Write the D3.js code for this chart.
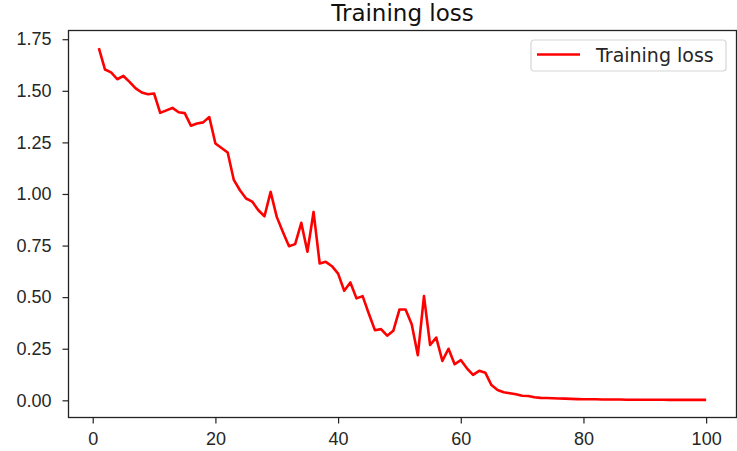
<!DOCTYPE html>
<html>
<head>
<meta charset="utf-8">
<script src="https://cdn.jsdelivr.net/npm/d3@7"></script>
<style>
  body { margin: 0; background: #fff; }
  svg { display: block; font-family: "DejaVu Sans", sans-serif; }
  .tick text { fill: #262626; }
</style>
</head>
<body>
<svg width="737" height="451"></svg>
<script>
const title = "Training loss";
const seriesName = "Training loss";

const epochs = d3.range(1, 101);
const trainLoss = [
  1.707, 1.603, 1.589, 1.556, 1.572, 1.543, 1.512, 1.492, 1.483, 1.487,
  1.393, 1.405, 1.417, 1.396, 1.392, 1.331, 1.342, 1.347, 1.373, 1.245,
  1.223, 1.201, 1.068, 1.018, 0.978, 0.963, 0.921, 0.892, 1.010, 0.889,
  0.816, 0.747, 0.757, 0.860, 0.720, 0.913, 0.663, 0.671, 0.650, 0.614,
  0.531, 0.571, 0.494, 0.505, 0.421, 0.340, 0.345, 0.313, 0.337, 0.440,
  0.440, 0.369, 0.219, 0.505, 0.268, 0.304, 0.191, 0.250, 0.175, 0.195,
  0.155, 0.123, 0.143, 0.134, 0.074, 0.050, 0.039, 0.034, 0.029, 0.022,
  0.021, 0.015, 0.012, 0.011, 0.010, 0.009, 0.008, 0.007, 0.006, 0.005,
  0.005, 0.005, 0.004, 0.004, 0.004, 0.004, 0.003, 0.003, 0.003, 0.003,
  0.003, 0.003, 0.003, 0.002, 0.002, 0.002, 0.002, 0.002, 0.002, 0.002
];

const xTicks = [0, 20, 40, 60, 80, 100];
const yTicks = [0, 0.25, 0.5, 0.75, 1.0, 1.25, 1.5, 1.75];

const margin = { left: 68.5, top: 30.5, right: 0.5, bottom: 33.5 };
const W = 737, H = 451;

const svg = d3.select("svg");

// matplotlib-style 5% padding around the data
function padded(ext) {
  const p = (ext[1] - ext[0]) * 0.05;
  return [ext[0] - p, ext[1] + p];
}

const x = d3.scaleLinear()
  .domain(padded(d3.extent(epochs)))
  .range([margin.left, W - margin.right]);

const y = d3.scaleLinear()
  .domain(padded(d3.extent(trainLoss)))
  .range([H - margin.bottom, margin.top]);

const xAxis = svg.append("g")
  .attr("transform", `translate(0,${H - margin.bottom})`)
  .call(d3.axisBottom(x).tickValues(xTicks).tickSize(6).tickPadding(9).tickFormat(d3.format("d")));

const yAxis = svg.append("g")
  .attr("transform", `translate(${margin.left},0)`)
  .call(d3.axisLeft(y).tickValues(yTicks).tickSize(6).tickPadding(11).tickFormat(d3.format(".2f")));

[xAxis, yAxis].forEach((g) => {
  g.select(".domain").remove();
  g.selectAll(".tick line").attr("stroke", "#222").attr("stroke-width", 1.2);
  g.selectAll(".tick text").attr("font-size", 18);
});

// frame
svg.append("rect")
  .attr("x", margin.left)
  .attr("y", margin.top)
  .attr("width", W - margin.right - margin.left)
  .attr("height", H - margin.bottom - margin.top)
  .attr("fill", "none")
  .attr("stroke", "#222")
  .attr("stroke-width", 1.3);

const line = d3.line()
  .x((d, i) => x(epochs[i]))
  .y((d) => y(d));

svg.append("path")
  .datum(trainLoss)
  .attr("fill", "none")
  .attr("stroke", "#ff0000")
  .attr("stroke-width", 2.6)
  .attr("stroke-linejoin", "round")
  .attr("d", line);

svg.append("text")
  .attr("x", (margin.left + W - margin.right) / 2)
  .attr("y", 21)
  .attr("text-anchor", "middle")
  .attr("font-size", 23)
  .attr("fill", "#111")
  .text(title);

// legend
const legend = svg.append("g").attr("transform", "translate(531,40)");
legend.append("rect")
  .attr("width", 195)
  .attr("height", 31)
  .attr("rx", 3)
  .attr("fill", "#fff")
  .attr("stroke", "#d6d6d6")
  .attr("stroke-width", 1.2);
legend.append("line")
  .attr("x1", 6).attr("x2", 49)
  .attr("y1", 14.5).attr("y2", 14.5)
  .attr("stroke", "#ff0000")
  .attr("stroke-width", 2.6);
legend.append("text")
  .attr("x", 65)
  .attr("y", 22)
  .attr("font-size", 19)
  .attr("fill", "#262626")
  .text(seriesName);
</script>
</body>
</html>
